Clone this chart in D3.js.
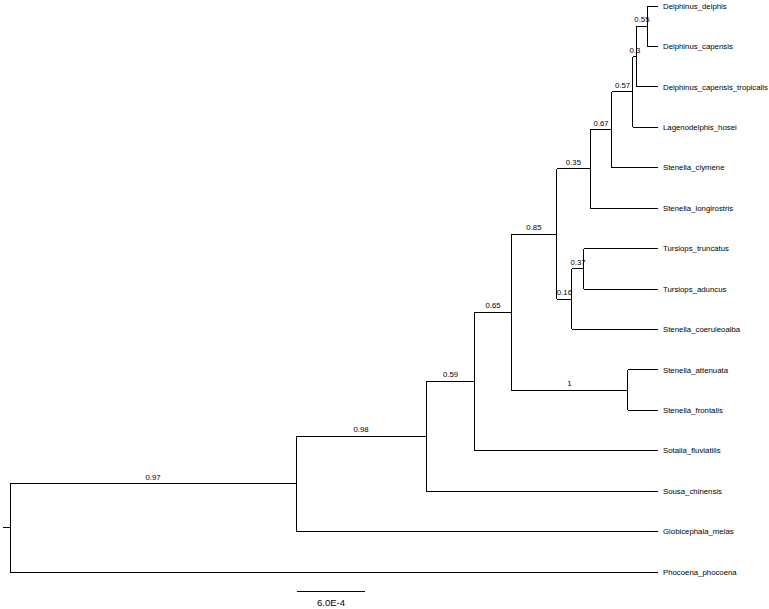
<!DOCTYPE html>
<html>
<head>
<meta charset="utf-8">
<script src="https://cdn.jsdelivr.net/npm/d3@7"></script>
<style>
  html, body { margin: 0; padding: 0; background: #fff; }
  svg { display: block; }
  text { font-family: "Liberation Sans", Arial, Helvetica, sans-serif; fill: #000; }
</style>
</head>
<body>
<svg id="chart" width="769" height="609"></svg>
<script>
// ---- DATA ----
// Tree nodes: name, parent, branch length (substitutions/site), support value
const nodeNames = [
  "root", "n097", "Phocoena_phocoena", "n098", "Globicephala_melas", "n059", "Sousa_chinensis",
  "n065", "Sotalia_fluviatilis", "n085", "n100", "Stenella_attenuata", "Stenella_frontalis",
  "n035", "n016", "n067", "Stenella_longirostris", "n057", "Stenella_clymene",
  "n030", "Lagenodelphis_hosei", "n055", "Delphinus_capensis_tropicalis",
  "Delphinus_delphis", "Delphinus_capensis", "n037", "Stenella_coeruleoalba",
  "Tursiops_truncatus", "Tursiops_aduncus"
];
const parentNames = [
  null, "root", "root", "n097", "n097", "n098", "n098",
  "n059", "n059", "n065", "n065", "n100", "n100",
  "n085", "n085", "n035", "n035", "n067", "n067",
  "n057", "n057", "n030", "n030",
  "n055", "n055", "n016", "n016",
  "n037", "n037"
];
const branchLengths = [
  0, 0.002524, 0.005718, 0.001147, 0.003194, 0.000432, 0.002047,
  0.000318, 0.001615, 0.000405, 0.001032, 0.000265, 0.000265,
  0.000292, 0.000133, 0.000194, 0.000600, 0.000185, 0.000406,
  0.000035, 0.000221, 0.000089, 0.000186,
  0.000097, 0.000097, 0.000106, 0.000759,
  0.000653, 0.000653
];
const supportValues = [
  null, "0.97", null, "0.98", null, "0.59", null,
  "0.65", null, "0.85", "1", null, null,
  "0.35", "0.16", "0.67", null, "0.57", null,
  "0.3", null, "0.55", null,
  null, null, "0.37", null,
  null, null
];
// leaf display order top to bottom
const leafOrder = [
  "Delphinus_delphis", "Delphinus_capensis", "Delphinus_capensis_tropicalis",
  "Lagenodelphis_hosei", "Stenella_clymene", "Stenella_longirostris",
  "Tursiops_truncatus", "Tursiops_aduncus", "Stenella_coeruleoalba",
  "Stenella_attenuata", "Stenella_frontalis", "Sotalia_fluviatilis",
  "Sousa_chinensis", "Globicephala_melas", "Phocoena_phocoena"
];
const scaleBarValue = 0.0006;
const scaleBarLabel = "6.0E-4";

// ---- BUILD TREE ----
const table = nodeNames.map((n, i) => ({
  id: n, parent: parentNames[i], len: branchLengths[i], support: supportValues[i]
}));
const root = d3.stratify().id(d => d.id).parentId(d => d.parent)(table);
root.each(d => { d.dist = d.parent ? d.parent.dist + d.data.len : 0; });
// order children by leaf order
const leafIdx = new Map(leafOrder.map((n, i) => [n, i]));
root.eachAfter(d => {
  if (d.children) {
    d.children.sort((a, b) => a.minIdx - b.minIdx);
    d.minIdx = d3.min(d.children, c => c.minIdx);
  } else d.minIdx = leafIdx.get(d.id);
});

const maxDist = d3.max(root.leaves(), d => d.dist);
const x = d3.scaleLinear().domain([0, maxDist]).range([10, 658]);
const y = d3.scalePoint().domain(leafOrder).range([6, 572]);

root.eachAfter(d => {
  d.px = x(d.dist);
  if (d.children) {
    d.py = (d.children[0].py + d.children[d.children.length - 1].py) / 2;
  } else d.py = y(d.id);
});

const svg = d3.select("#chart");
const g = svg.append("g");

// root stub
g.append("line")
  .attr("x1", root.px - 7).attr("x2", root.px)
  .attr("y1", root.py).attr("y2", root.py)
  .attr("stroke", "#000").attr("stroke-width", 1).attr("shape-rendering", "crispEdges");

// vertical connectors
g.selectAll("line.v").data(root.descendants().filter(d => d.children))
  .join("line").attr("class", "v")
  .attr("x1", d => d.px).attr("x2", d => d.px)
  .attr("y1", d => d.children[0].py)
  .attr("y2", d => d.children[d.children.length - 1].py)
  .attr("stroke", "#000").attr("stroke-width", 1).attr("shape-rendering", "crispEdges");

// horizontal branches
g.selectAll("line.h").data(root.descendants().filter(d => d.parent))
  .join("line").attr("class", "h")
  .attr("x1", d => d.parent.px).attr("x2", d => d.px)
  .attr("y1", d => d.py).attr("y2", d => d.py)
  .attr("stroke", "#000").attr("stroke-width", 1).attr("shape-rendering", "crispEdges");

// leaf labels
g.selectAll("text.leaf").data(root.leaves())
  .join("text").attr("class", "leaf")
  .attr("x", d => d.px + 5).attr("y", d => d.py)
  .attr("dy", "0.35em")
  .attr("font-size", "7.8px")
  .text(d => d.id);

// support labels
g.selectAll("text.sup").data(root.descendants().filter(d => d.parent && d.data.support))
  .join("text").attr("class", "sup")
  .attr("x", d => (d.parent.px + d.px) / 2).attr("y", d => d.py - 4)
  .attr("text-anchor", "middle")
  .attr("font-size", "7.8px")
  .text(d => d.data.support);

// scale bar
const sbX = 297, sbY = 591;
const sbW = x(scaleBarValue) - x(0);
g.append("line")
  .attr("x1", sbX).attr("x2", sbX + sbW)
  .attr("y1", sbY).attr("y2", sbY)
  .attr("stroke", "#000").attr("stroke-width", 1).attr("shape-rendering", "crispEdges");
g.append("text")
  .attr("x", sbX + sbW / 2).attr("y", sbY + 15)
  .attr("text-anchor", "middle")
  .attr("font-size", "9.5px")
  .text(scaleBarLabel);
</script>
</body>
</html>
